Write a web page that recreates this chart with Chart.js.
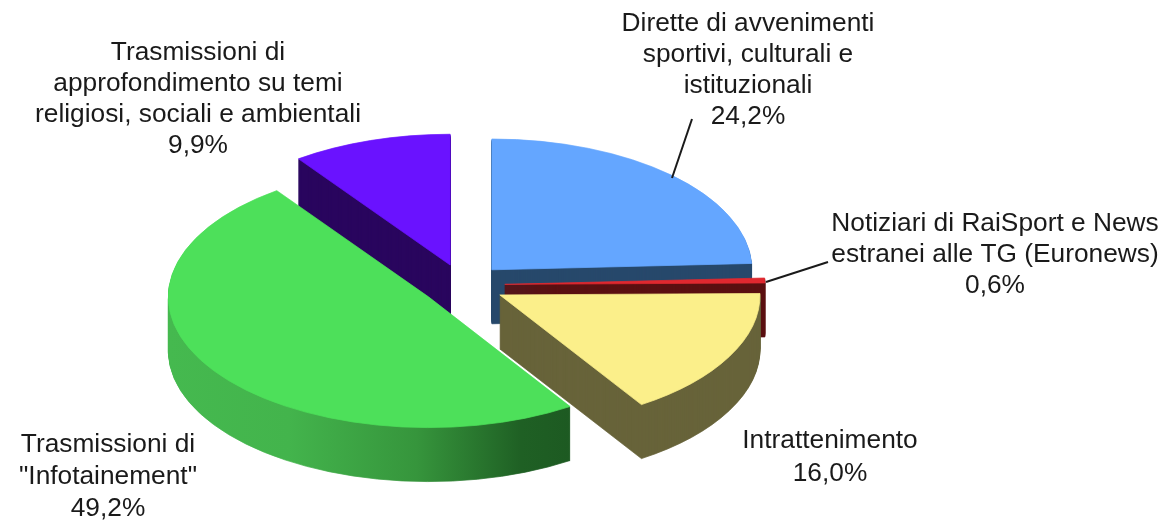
<!DOCTYPE html>
<html lang="it">

<head>
    <meta charset="UTF-8">
    <title>Grafico a torta</title>
    <style>
        html, body { margin: 0; background: #fff; }
        #box { width: 1169px; height: 523px; position: relative; overflow: hidden; }
    </style>
</head>

<body>

    <div id="box">
        <canvas id="myChart"></canvas>
    </div>

    <script src="https://cdn.jsdelivr.net/npm/chart.js"></script>

    <script>
        // data
        var categories = [
            ["Dirette di avvenimenti", "sportivi, culturali e", "istituzionali"],
            ["Notiziari di RaiSport e News", "estranei alle TG (Euronews)"],
            ["Intrattenimento"],
            ["Trasmissioni di", "\"Infotainement\""],
            ["Trasmissioni di", "approfondimento su temi", "religiosi, sociali e ambientali"]
        ];
        var values = [24.2, 0.6, 16.0, 49.2, 9.9];
        var topColors = ["#64a6ff", "#e0282f", "#fbef8a", "#4de05a", "#6a12ff"];
        var wallColors = ["#27496b", "#5b1011", "#68633a", null, "#29065e"];

        // where the labels sit: [center x, first baseline y, line height]
        var labelPos = [
            [748, 31, 31],
            [995, 231, 31],
            [830, 448, 33],
            [108, 452, 32],
            [198, 60, 31]
        ];
        // leader lines, only for the slices that have one
        var leaders = [
            [[692, 119], [672, 178]],
            [[828, 262], [766, 282]],
            null, null, null
        ];

        // 3d look
        var centerX = 463, centerY = 285;
        var squash = 0.5, stretch = 0.995;
        var explode = 42;
        var depth = 54;

        function pct(v) {
            return v.toFixed(1).replace(".", ",") + "%";
        }

        function greenWall(ctx, arc) {
            var g = ctx.createLinearGradient(arc.x - arc.outerRadius, 0, arc.x + arc.outerRadius * 0.54, 0);
            g.addColorStop(0, "#45b94f");
            g.addColorStop(0.3, "#43b44c");
            g.addColorStop(0.62, "#36953c");
            g.addColorStop(0.88, "#1f6024");
            g.addColorStop(1, "#1d5a22");
            return g;
        }

        var pie3d = {
            id: "pie3d",
            beforeDatasetsDraw: function (chart) {
                var ctx = chart.ctx;
                var arcs = chart.getDatasetMeta(0).data;
                var order = arcs.map(function (a, i) { return i; });
                function mid(i) { return (arcs[i].startAngle + arcs[i].endAngle) / 2; }
                // back slices first (chart.js angle 0 is to the right)
                order.sort(function (a, b) { return Math.sin(mid(a)) - Math.sin(mid(b)); });

                function drawArc(arc, i, color, dy) {
                    var base = arc.options;
                    // border keeps the thin wedge solid when it is stacked
                    arc.options = Object.assign({}, base, {
                        backgroundColor: color,
                        borderColor: color,
                        borderWidth: 1,
                        borderAlign: "center"
                    });
                    ctx.save();
                    ctx.translate(centerX, centerY + dy);
                    ctx.scale(stretch, squash);
                    ctx.translate(-arc.x, -arc.y);
                    ctx.translate(Math.cos(mid(i)) * explode, Math.sin(mid(i)) * explode);
                    arc.draw(ctx);
                    ctx.restore();
                    arc.options = base;
                }

                order.forEach(function (i) {
                    var arc = arcs[i];
                    for (var k = depth; k >= 1; k--) {
                        drawArc(arc, i, wallColors[i] || greenWall(ctx, arc), k);
                    }
                    drawArc(arc, i, topColors[i], 0);
                });
                return false;
            },
            afterDraw: function (chart) {
                var ctx = chart.ctx;
                ctx.save();
                ctx.strokeStyle = "#1a1a1a";
                ctx.lineWidth = 2;
                leaders.forEach(function (l) {
                    if (!l) return;
                    ctx.beginPath();
                    ctx.moveTo(l[0][0], l[0][1]);
                    ctx.lineTo(l[1][0], l[1][1]);
                    ctx.stroke();
                });
                ctx.fillStyle = "#1a1a1a";
                ctx.font = "26.3px 'Liberation Sans', Arial, sans-serif";
                ctx.textAlign = "center";
                ctx.textBaseline = "alphabetic";
                categories.forEach(function (lines, i) {
                    var p = labelPos[i];
                    lines.concat(pct(values[i])).forEach(function (t, n) {
                        ctx.fillText(t, p[0], p[1] + n * p[2]);
                    });
                });
                ctx.restore();
            }
        };

        new Chart(document.getElementById("myChart").getContext("2d"), {
            type: "pie",
            data: {
                labels: categories.map(function (c) { return c.join(" "); }),
                datasets: [{
                    data: values,
                    backgroundColor: topColors,
                    borderWidth: 0
                }]
            },
            options: {
                responsive: true,
                maintainAspectRatio: false,
                animation: false,
                layout: { padding: 0 },
                plugins: { legend: { display: false }, tooltip: { enabled: false } }
            },
            plugins: [pie3d]
        });
    </script>
</body>

</html>
